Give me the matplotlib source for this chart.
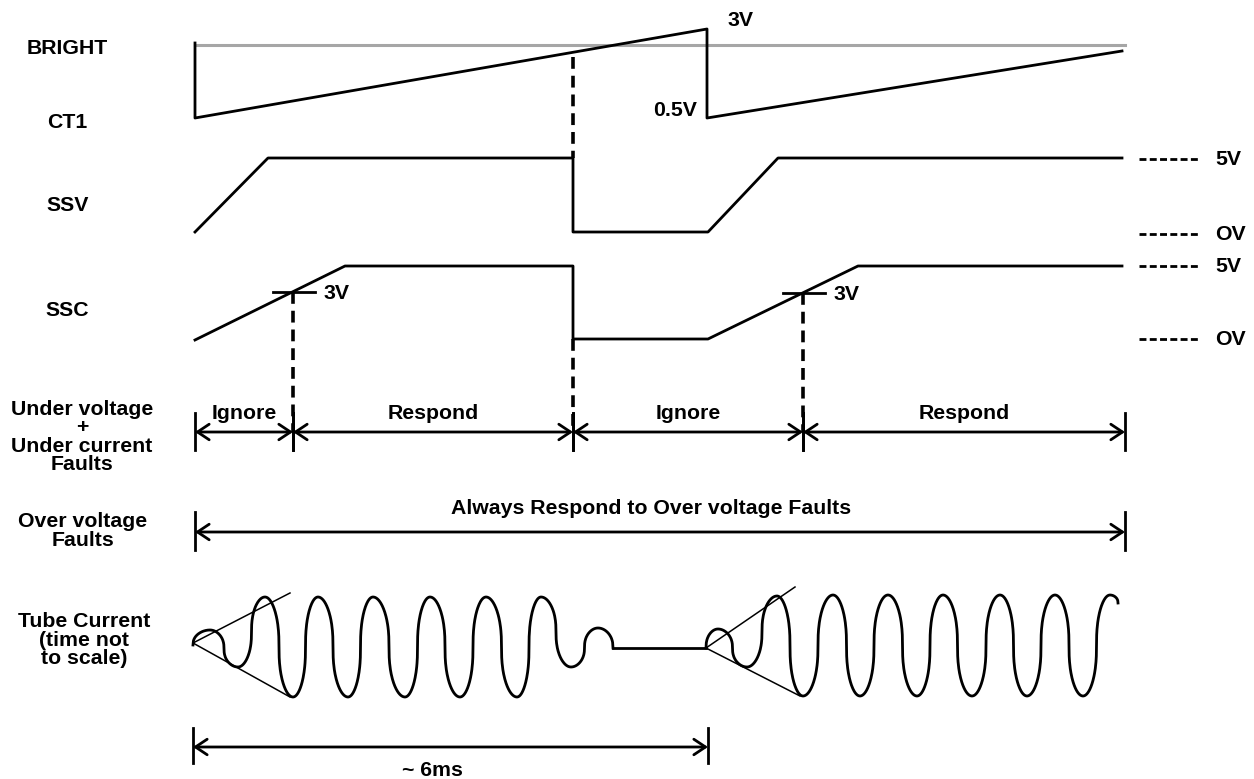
import numpy as np
import matplotlib
matplotlib.use("Agg")
import matplotlib.pyplot as plt

plt.rcParams['font.family'] = ['Liberation Sans', 'DejaVu Sans']
plt.rcParams['font.weight'] = 'bold'
plt.rcParams['lines.scale_dashes'] = False

# ---- data (diagram coordinates, y grows downward) ----
row_labels = ['BRIGHT', 'CT1', 'SSV', 'SSC',
              'Under voltage\n+\nUnder current\nFaults',
              'Over voltage\nFaults',
              'Tube Current\n(time not\nto scale)']
row_label_x = [67, 67, 68, 67, 82, 83, 84]
row_label_y = [48, 122, 205, 310, 437, 531, 640]

bright_x = [195, 1125]
bright_y = [45, 45]

ct1_x = [195, 195, 707, 707, 1122]
ct1_y = [43, 118, 29, 118, 51]

ssv_x = [195, 268, 573, 573, 708, 778, 1122]
ssv_y = [232, 158, 158, 232, 232, 158, 158]

ssc_x = [195, 345, 573, 573, 708, 858, 1122]
ssc_y = [340, 266, 266, 339, 339, 266, 266]

ref_y = [159, 234, 266, 339]
ref_labels = ['5V', 'OV', '5V', 'OV']

# dashed sync lines
sync_x = [573, 573, 293, 803]
sync_top = [57, 339, 292, 293]
sync_bot = [158, 432, 432, 432]

# 3V thresholds on SSC
thr_x = [293, 803]
thr_y = [292, 293]

# fault windows
window_edges = [195, 293, 573, 803, 1125]
window_labels = ['Ignore', 'Respond', 'Ignore', 'Respond']

# tube current extrema
tube1_x = [193, 210, 238, 265, 293, 318, 348, 373, 405, 430, 460, 486, 517, 541, 571, 598, 613]
tube1_y = [645, 630, 667, 597, 697, 597, 697, 597, 697, 597, 697, 597, 697, 597, 667, 628, 648]
tube2_x = [706, 718, 747, 777, 803, 833, 860, 888, 917, 943, 972, 1000, 1027, 1055, 1083, 1110, 1118]
tube2_y = [648, 629, 667, 596, 696, 595, 696, 595, 696, 595, 696, 595, 696, 595, 696, 595, 603]
gap_x = [613, 706]
gap_y = [648, 648]
env1 = [(193, 643, 290, 593), (193, 643, 290, 697)]
env2 = [(706, 648, 795, 587), (706, 648, 800, 696)]

LW = 2.0
FS = 15.3
fig = plt.figure(figsize=(12.54, 7.79), dpi=100)
ax = fig.add_axes([0, 0, 1, 1])
ax.set_xlim(0, 1254)
ax.set_ylim(779, 0)
ax.axis('off')


def s(c, p=0.4):
    return np.sign(c) * np.abs(c) ** p


def wave(xs, ys):
    px, py = [], []
    n = len(xs)
    for i in range(n - 1):
        xa, ya, xb, yb = xs[i], ys[i], xs[i + 1], ys[i + 1]
        if i == 0:  # start at mid level
            phi = np.linspace(np.pi / 2, np.pi, 40)
            x = xa + (xb - xa) * (phi - np.pi / 2) / (np.pi / 2)
            y = ya + (yb - ya) * (-s(np.cos(phi)))
        elif i == n - 2:  # end at mid level
            phi = np.linspace(0, np.pi / 2, 40)
            x = xa + (xb - xa) * phi / (np.pi / 2)
            y = yb + (ya - yb) * s(np.cos(phi))
        else:
            phi = np.linspace(0, np.pi, 80)
            ym = (ya + yb) / 2
            x = xa + (xb - xa) * phi / np.pi
            y = ym + (ya - ym) * s(np.cos(phi))
        px.extend(x)
        py.extend(y)
    ax.plot(px, py, color='black', lw=LW, solid_joinstyle='round')


for lab, x, y in zip(row_labels, row_label_x, row_label_y):
    ax.text(x, y, lab, ha='center', va='center', fontsize=FS, linespacing=0.96)

ax.plot(bright_x, bright_y, color='#a6a6a6', lw=2.2)
ax.plot(ct1_x, ct1_y, color='black', lw=LW)
ax.plot(ssv_x, ssv_y, color='black', lw=LW)
ax.plot(ssc_x, ssc_y, color='black', lw=LW)
ax.text(728, 20, '3V', ha='left', va='center', fontsize=FS)
ax.text(697, 110, '0.5V', ha='right', va='center', fontsize=FS)

for y, lab in zip(ref_y, ref_labels):
    ax.plot([1139, 1199], [y, y], color='black', lw=2.0, dashes=(5, 2.4))
    ax.text(1215, y, lab, ha='left', va='center', fontsize=FS)

for x, y0, y1 in zip(sync_x, sync_top, sync_bot):
    ax.plot([x, x], [y0, y1], color='black', lw=2.6, dashes=(8.5, 5))

for x, y in zip(thr_x, thr_y):
    ax.plot([x - 20, x + 22], [y, y], color='black', lw=LW)
    ax.text(x + 31, y + 1, '3V', ha='left', va='center', fontsize=FS)


def span_arrow(x0, x1, y, tick_top, tick_bot):
    ax.annotate('', xy=(x1, y), xytext=(x0, y),
                arrowprops=dict(arrowstyle='<->,head_length=0.6,head_width=0.4',
                                lw=LW, color='black', shrinkA=0, shrinkB=0,
                                mutation_scale=14))
    for x in (x0, x1):
        ax.plot([x, x], [tick_top, tick_bot], color='black', lw=LW)


for x0, x1, lab in zip(window_edges[:-1], window_edges[1:], window_labels):
    span_arrow(x0, x1, 432, 413, 450)
    ax.text((x0 + x1) / 2, 413, lab, ha='center', va='center', fontsize=FS)

span_arrow(195, 1125, 532, 512, 550)
ax.text(651, 509, 'Always Respond to Over voltage Faults', ha='center', va='center', fontsize=FS)

wave(tube1_x, tube1_y)
wave(tube2_x, tube2_y)
ax.plot(gap_x, gap_y, color='black', lw=LW)
for xa, ya, xb, yb in env1 + env2:
    ax.plot([xa, xb], [ya, yb], color='black', lw=1.1)

span_arrow(193, 708, 747, 728, 763)
ax.text(432, 770, '~ 6ms', ha='center', va='center', fontsize=FS)

fig.savefig('out.png', dpi=100)
